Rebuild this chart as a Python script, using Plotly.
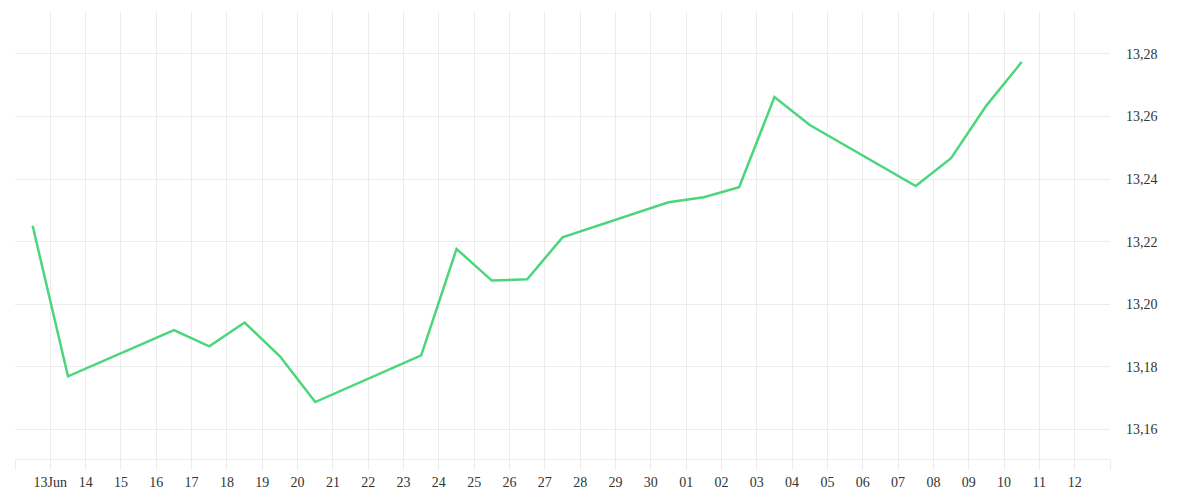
import datetime as dt
import plotly.graph_objects as go

dates = ["2024-06-12", "2024-06-13", "2024-06-16", "2024-06-17", "2024-06-18",
         "2024-06-19", "2024-06-20", "2024-06-23", "2024-06-24", "2024-06-25",
         "2024-06-26", "2024-06-27", "2024-06-30", "2024-07-01", "2024-07-02",
         "2024-07-03", "2024-07-04", "2024-07-07", "2024-07-08", "2024-07-09",
         "2024-07-10"]
values = [13.2251, 13.1770, 13.1918, 13.1866, 13.1942,
          13.1834, 13.1688, 13.1837, 13.2177, 13.2076,
          13.2080, 13.2214, 13.2326, 13.2342, 13.2374,
          13.2662, 13.2573, 13.2378, 13.2467, 13.2635,
          13.2774]

tick_dates = [dt.date(2024, 6, 12) + dt.timedelta(days=i) for i in range(32)]
tick_labels = [""] + ["13Jun"] + [d.strftime("%d") for d in tick_dates[2:-1]] + [""]

x_points = [d + " 12:00" for d in dates]

FONT = "Liberation Serif"
GRID = "#ececec"

fig = go.Figure()
fig.add_trace(go.Scatter(
    x=x_points, y=values, mode="lines",
    line=dict(color="#4cd67c", width=2.5),
    hoverinfo="skip",
))

fig.update_layout(
    width=1200, height=500,
    margin=dict(l=7, r=98, t=4, b=49),
    paper_bgcolor="white", plot_bgcolor="white",
    showlegend=False,
    separators=",.",
    font=dict(family=FONT, size=14, color="#333333"),
)
fig.update_xaxes(
    type="date",
    range=["2024-06-12 00:00", "2024-07-13 00:00"],
    tickvals=[d.isoformat() for d in tick_dates],
    ticktext=tick_labels,
    showgrid=True, gridcolor=GRID, gridwidth=1,
    ticks="outside", ticklen=10, tickcolor=GRID, tickwidth=1,
    showline=True, linecolor=GRID, linewidth=1,
    zeroline=False,
    tickfont=dict(family=FONT, size=14, color="#333333"),
)
fig.update_yaxes(
    side="right",
    range=[13.1506, 13.2934],
    tick0=13.16, dtick=0.02,
    tickformat=".2f",
    showgrid=True, gridcolor=GRID, gridwidth=1,
    zeroline=False, showline=False,
    ticks="", ticklabelstandoff=15,
    tickfont=dict(family=FONT, size=14, color="#333333"),
)

fig.write_html("out.html")
